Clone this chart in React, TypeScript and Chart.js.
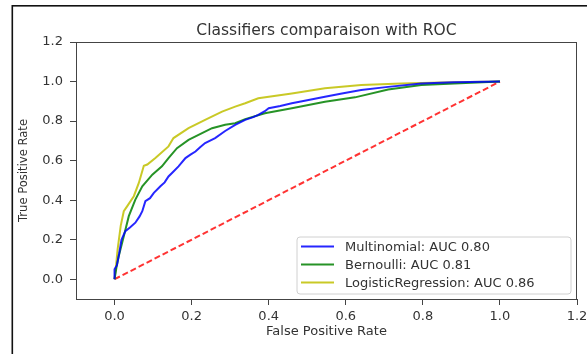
import React, { useEffect, useRef } from "react";
import { Chart, registerables } from "chart.js";

Chart.register(...registerables);

const TITLE = "Classifiers comparaison with ROC";
const X_LABEL = "False Positive Rate";
const Y_LABEL = "True Positive Rate";
const AXIS_TICKS = [0, 0.2, 0.4, 0.6, 0.8, 1.0, 1.2];
const SERIES_LABELS = [
  "Multinomial: AUC 0.80",
  "Bernoulli: AUC 0.81",
  "LogisticRegression: AUC 0.86",
];

const MULTI_FPR = [0, 0, 0.006, 0.012, 0.018, 0.028, 0.04, 0.054, 0.065, 0.072, 0.08, 0.092, 0.102, 0.119, 0.13, 0.14, 0.153, 0.166, 0.184, 0.197, 0.21, 0.222, 0.235, 0.261, 0.287, 0.313, 0.339, 0.36, 0.373, 0.39, 0.4, 0.43, 0.46, 0.5, 0.546, 0.59, 0.64, 0.71, 0.796, 0.88, 1.0];
const MULTI_TPR = [0, 0.05, 0.07, 0.13, 0.2, 0.243, 0.262, 0.286, 0.318, 0.344, 0.395, 0.41, 0.437, 0.47, 0.49, 0.52, 0.545, 0.571, 0.613, 0.63, 0.646, 0.668, 0.689, 0.714, 0.75, 0.781, 0.806, 0.82, 0.831, 0.85, 0.865, 0.876, 0.89, 0.905, 0.923, 0.94, 0.957, 0.973, 0.99, 0.996, 1.0];

const BERN_FPR = [0, 0.005, 0.011, 0.024, 0.037, 0.054, 0.072, 0.098, 0.123, 0.14, 0.162, 0.192, 0.227, 0.253, 0.287, 0.313, 0.339, 0.39, 0.46, 0.546, 0.624, 0.71, 0.796, 0.882, 1.0];
const BERN_TPR = [0, 0.06, 0.117, 0.218, 0.319, 0.403, 0.47, 0.529, 0.571, 0.613, 0.663, 0.705, 0.739, 0.764, 0.781, 0.789, 0.81, 0.84, 0.865, 0.898, 0.92, 0.96, 0.982, 0.99, 1.0];

const LOGREG_FPR = [0, 0.005, 0.008, 0.016, 0.024, 0.033, 0.05, 0.063, 0.076, 0.085, 0.106, 0.14, 0.153, 0.192, 0.235, 0.279, 0.313, 0.339, 0.373, 0.46, 0.546, 0.64, 0.744, 0.85, 1.0];
const LOGREG_TPR = [0, 0.09, 0.151, 0.27, 0.344, 0.37, 0.42, 0.487, 0.574, 0.58, 0.613, 0.672, 0.714, 0.764, 0.806, 0.848, 0.873, 0.89, 0.915, 0.94, 0.966, 0.982, 0.99, 0.995, 1.0];

const CHANCE_FPR = [0, 1];
const CHANCE_TPR = [0, 1];

const COLORS = ["rgba(0,0,255,0.85)", "rgba(0,128,0,0.85)", "rgba(191,191,0,0.85)"];
const CHANCE_COLOR = "rgba(255,0,0,0.8)";

const toPoints = (xs: number[], ys: number[]) => xs.map((x, i) => ({ x, y: ys[i] }));

const FONT = "'DejaVu Sans', sans-serif";
const TEXT = "#333";
const AXIS = "#444";

const decor = {
  id: "decor",
  beforeDraw(chart: any) {
    const ctx = chart.ctx;
    ctx.save();
    ctx.fillStyle = "#fff";
    ctx.fillRect(0, 0, chart.width, chart.height);
    ctx.fillStyle = "#111";
    ctx.fillRect(12, 5, chart.width - 12, 1.6);
    ctx.fillRect(11.5, 5, 1.6, chart.height - 5);
    ctx.restore();
  },
  afterDraw(chart: any) {
    const ctx = chart.ctx;
    const a = chart.chartArea;
    ctx.save();
    ctx.strokeStyle = AXIS;
    ctx.lineWidth = 1;
    ctx.beginPath();
    ctx.moveTo(a.left, a.top + 0.5);
    ctx.lineTo(a.right, a.top + 0.5);
    ctx.moveTo(a.right - 0.5, a.top);
    ctx.lineTo(a.right - 0.5, a.bottom);
    ctx.stroke();
    const cx = (a.left + a.right) / 2;
    ctx.fillStyle = TEXT;
    ctx.textAlign = "center";
    ctx.textBaseline = "alphabetic";
    ctx.font = `15.5px ${FONT}`;
    ctx.fillText(TITLE, cx, 35);
    ctx.font = `13px ${FONT}`;
    ctx.fillText(X_LABEL, cx, 335);
    ctx.save();
    ctx.translate(27, (a.top + a.bottom) / 2);
    ctx.rotate(-Math.PI / 2);
    ctx.font = `12.5px ${FONT}`;
    const w = ctx.measureText(Y_LABEL).width;
    ctx.scale(103 / w, 1);
    ctx.textBaseline = "alphabetic";
    ctx.fillText(Y_LABEL, 0, 0);
    ctx.restore();
    const lx = 297, ly = 237, lw = 274, lh = 57, r = 3;
    ctx.beginPath();
    ctx.moveTo(lx + r, ly);
    ctx.arcTo(lx + lw, ly, lx + lw, ly + lh, r);
    ctx.arcTo(lx + lw, ly + lh, lx, ly + lh, r);
    ctx.arcTo(lx, ly + lh, lx, ly, r);
    ctx.arcTo(lx, ly, lx + lw, ly, r);
    ctx.closePath();
    ctx.fillStyle = "rgba(255,255,255,0.8)";
    ctx.fill();
    ctx.strokeStyle = "#d0d0d0";
    ctx.lineWidth = 1;
    ctx.stroke();
    const rows = [246.5, 264.5, 282.5];
    chart.data.datasets.slice(0, 3).forEach((ds: any, i: number) => {
      ctx.strokeStyle = ds.borderColor;
      ctx.lineWidth = 2;
      ctx.beginPath();
      ctx.moveTo(301, rows[i]);
      ctx.lineTo(334, rows[i]);
      ctx.stroke();
      ctx.fillStyle = TEXT;
      ctx.textAlign = "left";
      ctx.textBaseline = "middle";
      ctx.font = `13px ${FONT}`;
      ctx.fillText(ds.label, 345, rows[i] + 1);
    });
    ctx.restore();
  },
};

const axisCommon = (axis: "x" | "y") => ({
  type: "linear" as const,
  min: -0.1,
  max: 1.2,
  afterBuildTicks: (s: any) => {
    s.ticks = AXIS_TICKS.map((v) => ({ value: v }));
  },
  afterFit: (s: any) => {
    if (axis === "y") {
      s.width = 76;
    } else {
      s.height = 55;
      s.paddingLeft = 0;
      s.paddingRight = 0;
    }
  },
  grid: {
    display: true,
    drawOnChartArea: false,
    drawTicks: true,
    tickLength: 6,
    color: AXIS,
    lineWidth: 1,
  },
  border: { display: true, color: AXIS, width: 1 },
  ticks: {
    font: { family: FONT, size: 13 },
    color: TEXT,
    padding: axis === "y" ? 7 : 4,
    callback: (v: any) => Number(v).toFixed(1),
  },
});

export default function App() {
  const ref = useRef<HTMLCanvasElement>(null);
  useEffect(() => {
    const prev = document.body.style.margin;
    document.body.style.margin = "0";
    const ctx = ref.current!.getContext("2d")!;
    const lineDs = (label: string, xs: number[], ys: number[], color: string) => ({
      label,
      data: toPoints(xs, ys),
      borderColor: color,
      backgroundColor: color,
      borderWidth: 2,
      pointRadius: 0,
      showLine: true,
      fill: false,
      tension: 0,
    });
    const chart = new Chart(ctx, {
      type: "scatter",
      data: {
        datasets: [
          lineDs(SERIES_LABELS[0], MULTI_FPR, MULTI_TPR, COLORS[0]),
          lineDs(SERIES_LABELS[1], BERN_FPR, BERN_TPR, COLORS[1]),
          lineDs(SERIES_LABELS[2], LOGREG_FPR, LOGREG_TPR, COLORS[2]),
          {
            ...lineDs("chance", CHANCE_FPR, CHANCE_TPR, CHANCE_COLOR),
            borderDash: [6, 3],
          },
        ],
      },
      options: {
        animation: false,
        responsive: false,
        devicePixelRatio: 1,
        layout: { padding: { left: 0, right: 10, top: 42, bottom: 0 } },
        plugins: {
          legend: { display: false },
          title: { display: false },
          tooltip: { enabled: false },
        },
        scales: {
          x: axisCommon("x"),
          y: axisCommon("y"),
        },
      },
      plugins: [decor],
    });
    return () => {
      chart.destroy();
      document.body.style.margin = prev;
    };
  }, []);
  return (
    <div style={{ position: "absolute", left: 0, top: 0, width: 587, height: 354 }}>
      <canvas ref={ref} width={587} height={354} style={{ display: "block" }} />
    </div>
  );
}
